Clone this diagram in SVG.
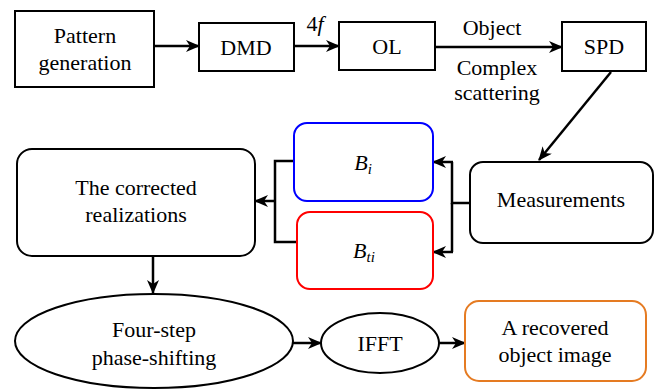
<svg xmlns="http://www.w3.org/2000/svg" width="657" height="392" viewBox="0 0 657 392">
  <defs>
    <marker id="ah" markerUnits="userSpaceOnUse" markerWidth="14" markerHeight="12" refX="13" refY="6" orient="auto">
      <path d="M0,0 L14,6 L0,12 L4,6 Z" fill="#000"/>
    </marker>
  </defs>
  <rect width="657" height="392" fill="#fff"/>

  <!-- connectors: black 2.5px lines, arrowhead marker at the end -->
  <g id="connectors" fill="none" stroke="#000" stroke-width="2.5">
    <line x1="154" y1="46" x2="199" y2="46" marker-end="url(#ah)"/>
    <line x1="294" y1="46" x2="339" y2="46" marker-end="url(#ah)"/>
    <line x1="435" y1="47" x2="562" y2="47" marker-end="url(#ah)"/>
    <line x1="611" y1="72" x2="539" y2="160" marker-end="url(#ah)"/>
    <path d="M470,203 H452 V162"/>
    <path d="M452,203 V252"/>
    <line x1="453" y1="162" x2="433" y2="162" marker-end="url(#ah)"/>
    <line x1="453" y1="252" x2="433" y2="252" marker-end="url(#ah)"/>
    <path d="M294,161 H275 V242 H297"/>
    <line x1="276" y1="201" x2="255" y2="201" marker-end="url(#ah)"/>
    <line x1="153" y1="256" x2="153" y2="293" marker-end="url(#ah)"/>
    <line x1="293" y1="343" x2="321" y2="343" marker-end="url(#ah)"/>
    <line x1="439" y1="343" x2="465" y2="343" marker-end="url(#ah)"/>
  </g>

  <!-- connector labels -->
  <g id="edge-labels">
    <text x="315" y="31" font-family="Liberation Serif" font-size="22" text-anchor="middle" fill="#000">4<tspan font-style="italic">f</tspan></text>
    <text x="492" y="35" font-family="Liberation Serif" font-size="22" text-anchor="middle" fill="#000">Object</text>
    <text x="497" y="75" font-family="Liberation Serif" font-size="22" text-anchor="middle" fill="#000">Complex</text>
    <text x="497" y="100" font-family="Liberation Serif" font-size="22" text-anchor="middle" fill="#000">scattering</text>
  </g>

  <!-- nodes: white fill, 2px outline -->
  <g id="pattern">
    <rect x="15" y="11" width="139" height="76" fill="#fff" stroke="#000" stroke-width="2"/>
    <text x="85" y="43" font-family="Liberation Serif" font-size="22" text-anchor="middle" fill="#000">Pattern</text>
    <text x="85" y="70" font-family="Liberation Serif" font-size="22" text-anchor="middle" fill="#000">generation</text>
  </g>
  <g id="dmd">
    <rect x="199" y="23" width="95" height="48" fill="#fff" stroke="#000" stroke-width="2"/>
    <text x="246" y="55" font-family="Liberation Serif" font-size="22" text-anchor="middle" fill="#000">DMD</text>
  </g>
  <g id="ol">
    <rect x="339" y="22" width="96" height="48" fill="#fff" stroke="#000" stroke-width="2"/>
    <text x="387" y="54" font-family="Liberation Serif" font-size="22" text-anchor="middle" fill="#000">OL</text>
  </g>
  <g id="spd">
    <rect x="562" y="22" width="84" height="49" fill="#fff" stroke="#000" stroke-width="2"/>
    <text x="604" y="54" font-family="Liberation Serif" font-size="22" text-anchor="middle" fill="#000">SPD</text>
  </g>
  <g id="measurements">
    <rect x="470" y="162" width="183" height="81" rx="13" fill="#fff" stroke="#000" stroke-width="2"/>
    <text x="561" y="207" font-family="Liberation Serif" font-size="22" text-anchor="middle" fill="#000">Measurements</text>
  </g>
  <g id="bi">
    <rect x="294" y="123" width="139" height="78" rx="13" fill="#fff" stroke="#0000ff" stroke-width="2"/>
    <text x="363" y="170" font-family="Liberation Serif" font-size="22" font-style="italic" text-anchor="middle" fill="#000">B<tspan font-size="15" dy="4">i</tspan></text>
  </g>
  <g id="bti">
    <rect x="297" y="212" width="136" height="77" rx="13" fill="#fff" stroke="#ff0000" stroke-width="2"/>
    <text x="364" y="258" font-family="Liberation Serif" font-size="22" font-style="italic" text-anchor="middle" fill="#000">B<tspan font-size="15" dy="4">ti</tspan></text>
  </g>
  <g id="corrected">
    <rect x="17" y="149" width="238" height="107" rx="15" fill="#fff" stroke="#000" stroke-width="2"/>
    <text x="136" y="195" font-family="Liberation Serif" font-size="22" text-anchor="middle" fill="#000">The corrected</text>
    <text x="136" y="222" font-family="Liberation Serif" font-size="22" text-anchor="middle" fill="#000">realizations</text>
  </g>
  <g id="fourstep">
    <ellipse cx="154" cy="341" rx="139" ry="47" fill="#fff" stroke="#000" stroke-width="2"/>
    <text x="154" y="337" font-family="Liberation Serif" font-size="22" text-anchor="middle" fill="#000">Four-step</text>
    <text x="154" y="365" font-family="Liberation Serif" font-size="22" text-anchor="middle" fill="#000">phase-shifting</text>
  </g>
  <g id="ifft">
    <ellipse cx="380" cy="343" rx="59" ry="30" fill="#fff" stroke="#000" stroke-width="2"/>
    <text x="380" y="351" font-family="Liberation Serif" font-size="22" text-anchor="middle" fill="#000">IFFT</text>
  </g>
  <g id="recovered">
    <rect x="465" y="301" width="181" height="80" rx="14" fill="#fff" stroke="#e57b22" stroke-width="2"/>
    <text x="555" y="335" font-family="Liberation Serif" font-size="22" text-anchor="middle" fill="#000">A recovered</text>
    <text x="555" y="362" font-family="Liberation Serif" font-size="22" text-anchor="middle" fill="#000">object image</text>
  </g>
</svg>
